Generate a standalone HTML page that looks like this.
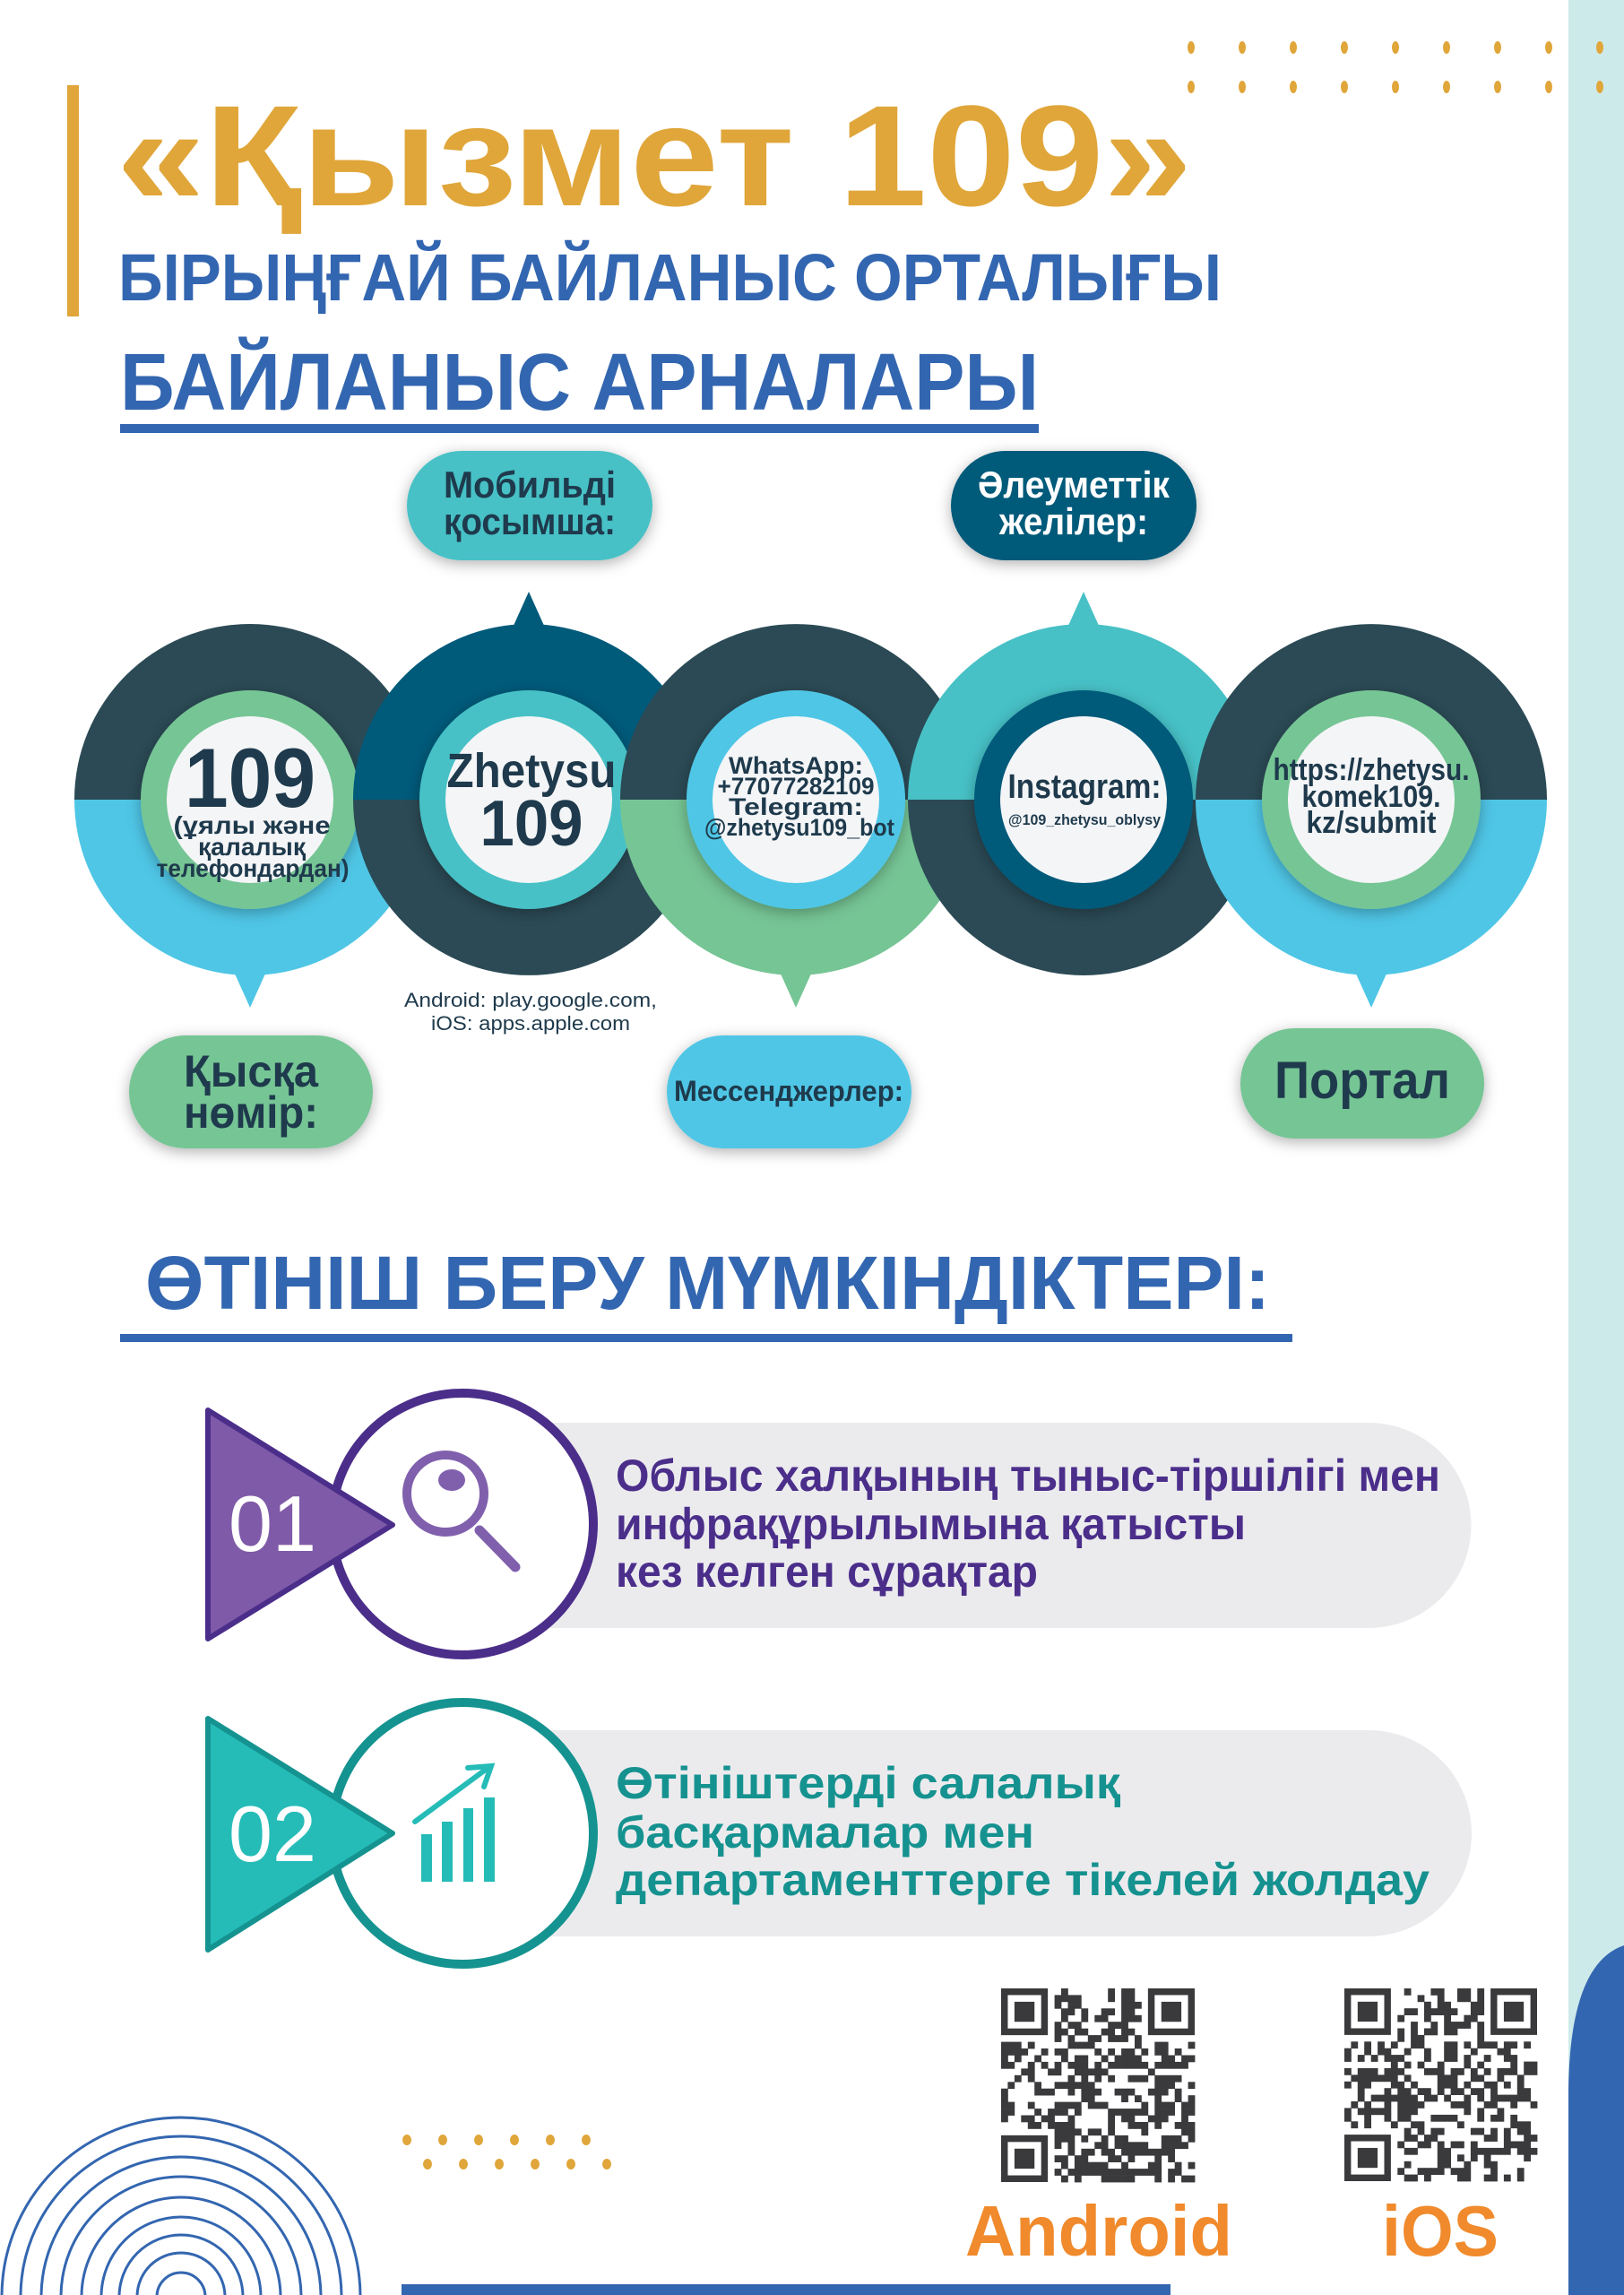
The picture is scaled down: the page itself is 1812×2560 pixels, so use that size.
<!DOCTYPE html>
<html><head><meta charset="utf-8">
<style>
html,body{margin:0;padding:0;background:#fff;}
svg{display:block;}
text{font-family:"Liberation Sans","DejaVu Sans",sans-serif;font-weight:bold;}
</style></head>
<body>
<svg id="s" width="1812" height="2560" viewBox="0 0 1812 2560" xmlns="http://www.w3.org/2000/svg">
<defs>
<filter id="sh" x="-20%" y="-20%" width="140%" height="140%"><feDropShadow dx="0" dy="4" stdDeviation="8" flood-color="#000" flood-opacity="0.3"/></filter>
</defs>
<rect width="1812" height="2560" fill="#fff"/>
<rect x="1750" y="0" width="62" height="2560" fill="#cdeaea"/>
<path d="M1750 2560 L1750 2330 Q1752 2190 1812 2170 L1812 2560 Z" fill="#3366b0"/>
<g id="tdots" fill="#e0a63a"></g>
<rect x="75" y="95" width="13" height="258" fill="#e0a63a"/>
<text x="130" y="229" font-size="160" fill="#e0a63a" textLength="1200" lengthAdjust="spacingAndGlyphs">«Қызмет 109»</text>
<text x="132" y="335" font-size="74" fill="#3366b0" textLength="1231" lengthAdjust="spacingAndGlyphs">БІРЫҢҒАЙ БАЙЛАНЫС ОРТАЛЫҒЫ</text>
<text x="134" y="457" font-size="90" fill="#3366b0" textLength="1025" lengthAdjust="spacingAndGlyphs">БАЙЛАНЫС АРНАЛАРЫ</text>
<rect x="134" y="473" width="1025" height="10" fill="#3366b0"/>

<rect x="454" y="503" width="274" height="122" rx="61" fill="#47c1c6" filter="url(#sh)"/>
<text x="591" y="555" font-size="42" fill="#1e3a4c" text-anchor="middle" textLength="192" lengthAdjust="spacingAndGlyphs">Мобильді</text>
<text x="591" y="596" font-size="42" fill="#1e3a4c" text-anchor="middle" textLength="192" lengthAdjust="spacingAndGlyphs">қосымша:</text>
<rect x="1061" y="503" width="274" height="122" rx="61" fill="#005a7a" filter="url(#sh)"/>
<text x="1198" y="555" font-size="42" fill="#fff" text-anchor="middle" textLength="214" lengthAdjust="spacingAndGlyphs">Әлеуметтік</text>
<text x="1198" y="596" font-size="42" fill="#fff" text-anchor="middle" textLength="166" lengthAdjust="spacingAndGlyphs">желілер:</text>

<g id="circles"></g>

<text x="592" y="1123" font-size="22" fill="#1e3a4c" text-anchor="middle" style="font-weight:normal" textLength="282" lengthAdjust="spacingAndGlyphs">Android: play.google.com,</text>
<text x="592" y="1149" font-size="22" fill="#1e3a4c" text-anchor="middle" style="font-weight:normal" textLength="222" lengthAdjust="spacingAndGlyphs">iOS: apps.apple.com</text>

<rect x="144" y="1155" width="272" height="126" rx="63" fill="#76c595" filter="url(#sh)"/>
<text x="280" y="1212" font-size="50" fill="#1e3a4c" text-anchor="middle" textLength="150" lengthAdjust="spacingAndGlyphs">Қысқа</text>
<text x="280" y="1258" font-size="50" fill="#1e3a4c" text-anchor="middle" textLength="150" lengthAdjust="spacingAndGlyphs">нөмір:</text>
<rect x="744" y="1155" width="273" height="126" rx="63" fill="#4fc6e6" filter="url(#sh)"/>
<text x="880" y="1228" font-size="32" fill="#1e3a4c" text-anchor="middle" textLength="256" lengthAdjust="spacingAndGlyphs">Мессенджерлер:</text>
<rect x="1384" y="1147" width="272" height="123" rx="61" fill="#76c595" filter="url(#sh)"/>
<text x="1520" y="1225" font-size="58" fill="#1e3a4c" text-anchor="middle" textLength="196" lengthAdjust="spacingAndGlyphs">Портал</text>

<text x="162" y="1460" font-size="84" fill="#3366b0" textLength="1255" lengthAdjust="spacingAndGlyphs">ӨТІНІШ БЕРУ МҮМКІНДІКТЕРІ:</text>
<rect x="134" y="1488" width="1308" height="9" fill="#3366b0"/>

<path d="M516 1587 H1527 A114.5 114.5 0 0 1 1527 1816 H516 Z" fill="#ebebee"/>
<circle cx="516" cy="1700" r="146" fill="#fff" stroke="#4b2e8a" stroke-width="10"/>
<polygon points="232,1573 232,1828 438,1701" fill="#7f5aa8" stroke="#4b2e8a" stroke-width="6" stroke-linejoin="round"/>
<text x="255" y="1730" font-size="88" fill="#fff" style="font-weight:normal">01</text>
<circle cx="497" cy="1666" r="43" fill="none" stroke="#8060ad" stroke-width="10"/>
<ellipse cx="504" cy="1651" rx="15" ry="12" fill="#8060ad"/>
<line x1="535" y1="1707" x2="575" y2="1748" stroke="#8060ad" stroke-width="11" stroke-linecap="round"/>
<text x="687" y="1663" font-size="50" fill="#4b2e8a" textLength="920" lengthAdjust="spacingAndGlyphs">Облыс халқының тыныс-тіршілігі мен</text>
<text x="687" y="1717" font-size="50" fill="#4b2e8a" textLength="703" lengthAdjust="spacingAndGlyphs">инфрақұрылымына қатысты</text>
<text x="687" y="1770" font-size="50" fill="#4b2e8a" textLength="471" lengthAdjust="spacingAndGlyphs">кез келген сұрақтар</text>

<path d="M516 1930 H1527 A115 115 0 0 1 1527 2160 H516 Z" fill="#ebebee"/>
<circle cx="516" cy="2045" r="146" fill="#fff" stroke="#159390" stroke-width="10"/>
<polygon points="232,1917 232,2175 438,2045" fill="#25bcb8" stroke="#159390" stroke-width="6" stroke-linejoin="round"/>
<text x="255" y="2076" font-size="88" fill="#fff" style="font-weight:normal">02</text>
<rect x="470" y="2046" width="12" height="53" fill="#25bcb8"/>
<rect x="493" y="2032" width="12" height="67" fill="#25bcb8"/>
<rect x="517" y="2017" width="11" height="82" fill="#25bcb8"/>
<rect x="540" y="2005" width="12" height="94" fill="#25bcb8"/>
<line x1="463" y1="2032" x2="543" y2="1973" stroke="#25bcb8" stroke-width="6" stroke-linecap="round"/>
<polyline points="522,1972 548,1970 540,1993" fill="none" stroke="#25bcb8" stroke-width="6" stroke-linecap="round"/>
<text x="687" y="2006" font-size="50" fill="#15928f" textLength="563" lengthAdjust="spacingAndGlyphs">Өтініштерді салалық</text>
<text x="687" y="2061" font-size="50" fill="#15928f" textLength="467" lengthAdjust="spacingAndGlyphs">басқармалар мен</text>
<text x="687" y="2114" font-size="50" fill="#15928f" textLength="908" lengthAdjust="spacingAndGlyphs">департаменттерге тікелей жолдау</text>

<g id="qr1"></g><g id="qr2"></g>
<text x="1077" y="2516" font-size="80" fill="#f08a2c" textLength="298" lengthAdjust="spacingAndGlyphs">Android</text>
<text x="1542" y="2516" font-size="80" fill="#f08a2c" textLength="130" lengthAdjust="spacingAndGlyphs">iOS</text>

<g id="arcs" fill="none" stroke="#3366b0" stroke-width="3"></g>
<g id="bdots" fill="#e0a63a"></g>
<rect x="448" y="2548" width="858" height="12" fill="#3366b0"/>
</svg>
<script>
var NS="http://www.w3.org/2000/svg";
function el(p,t,a){var e=document.createElementNS(NS,t);for(var k in a)e.setAttribute(k,a[k]);p.appendChild(e);return e;}
var td=document.getElementById('tdots');
for(var r=0;r<2;r++)for(var i=0;i<9;i++)el(td,'ellipse',{cx:1329+i*57,cy:53+r*44,rx:4,ry:7});
var bd=document.getElementById('bdots');
for(var i=0;i<6;i++){el(bd,'ellipse',{cx:454+i*40,cy:2387,rx:5,ry:6});el(bd,'ellipse',{cx:477+i*40,cy:2414,rx:5,ry:6});}
var ar=document.getElementById('arcs');
[200,179,156,134,111,89,69,49,27].forEach(function(R){el(ar,'path',{d:'M'+(202-R)+' 2562 A'+R+' '+R+' 0 0 1 '+(202+R)+' 2562'});});
var C=[
 {x:279,top:'#2b4a55',bot:'#4fc6e6',ring:'#76c595',sp:'d'},
 {x:590,top:'#005a7a',bot:'#2b4a55',ring:'#47c1c6',sp:'u'},
 {x:888,top:'#2b4a55',bot:'#76c595',ring:'#4fc6e6',sp:'d'},
 {x:1209,top:'#47c1c6',bot:'#2b4a55',ring:'#005a7a',sp:'u'},
 {x:1530,top:'#2b4a55',bot:'#4fc6e6',ring:'#76c595',sp:'d'}];
var cg=document.getElementById('circles');var cy=892,R=196;
C.forEach(function(c){
 var g=el(cg,'g',{});
 if(c.sp=='u')el(g,'polygon',{points:(c.x-18)+','+(cy-R+4)+' '+c.x+','+(cy-R-36)+' '+(c.x+18)+','+(cy-R+4),fill:c.top});
 else el(g,'polygon',{points:(c.x-18)+','+(cy+R-4)+' '+c.x+','+(cy+R+36)+' '+(c.x+18)+','+(cy+R-4),fill:c.bot});
 el(g,'path',{d:'M'+(c.x-R)+' '+cy+' A'+R+' '+R+' 0 0 1 '+(c.x+R)+' '+cy+' Z',fill:c.top});
 el(g,'path',{d:'M'+(c.x-R)+' '+cy+' A'+R+' '+R+' 0 0 0 '+(c.x+R)+' '+cy+' Z',fill:c.bot});
 el(g,'circle',{cx:c.x,cy:cy,r:122,fill:c.ring,filter:'url(#sh)'});
 el(g,'circle',{cx:c.x,cy:cy,r:93,fill:'#f4f5f7'});
});
function T(x,y,s,str,len,fill){var t=el(cg,'text',{x:x,y:y,'font-size':s,fill:fill||'#1e3a4c','text-anchor':'middle'});if(len){t.setAttribute('textLength',len);t.setAttribute('lengthAdjust','spacingAndGlyphs');}t.textContent=str;}
T(279,900,94,'109',146);T(281,930,28,'(ұялы және',175);T(281,954,28,'қалалық',120);T(282,978,28,'телефондардан)',215);
T(593,878,54,'Zhetysu',189);T(593,943,72,'109',115);
T(888,863,27,'WhatsApp:',150);T(888,886,27,'+77077282109',175);T(888,909,27,'Telegram:',150);T(892,932,27,'@zhetysu109_bot',212);
T(1210,890,38,'Instagram:',171);T(1210,920,17,'@109_zhetysu_oblysy',170);
T(1530,870,34,'https://zhetysu.',219);T(1530,900,34,'komek109.',155);T(1530,929,34,'kz/submit',145);
function qr(id,x0,y0,size,seed){
 var g=document.getElementById(id);var n=29,m=size/n;var s=seed;
 function rnd(){s=(s*1103515245+12345)%2147483648;return s/2147483648;}
 function fin(cx,cy){el(g,'rect',{x:x0+cx*m,y:y0+cy*m,width:7*m,height:7*m,fill:'#3a3a3c'});el(g,'rect',{x:x0+(cx+1)*m,y:y0+(cy+1)*m,width:5*m,height:5*m,fill:'#fff'});el(g,'rect',{x:x0+(cx+2)*m,y:y0+(cy+2)*m,width:3*m,height:3*m,fill:'#3a3a3c'});}
 for(var i=0;i<n;i++)for(var j=0;j<n;j++){
  if((i<8&&j<8)||(i<8&&j>n-9)||(i>n-9&&j<8))continue;
  if(rnd()<0.5)el(g,'rect',{x:(x0+j*m).toFixed(1),y:(y0+i*m).toFixed(1),width:(m+0.4).toFixed(1),height:(m+0.4).toFixed(1),fill:'#3a3a3c'});
 }
 fin(0,0);fin(n-7,0);fin(0,n-7);
}
qr('qr1',1117,2218,216,7);qr('qr2',1500,2218,215,91);
</script>
</body></html>
